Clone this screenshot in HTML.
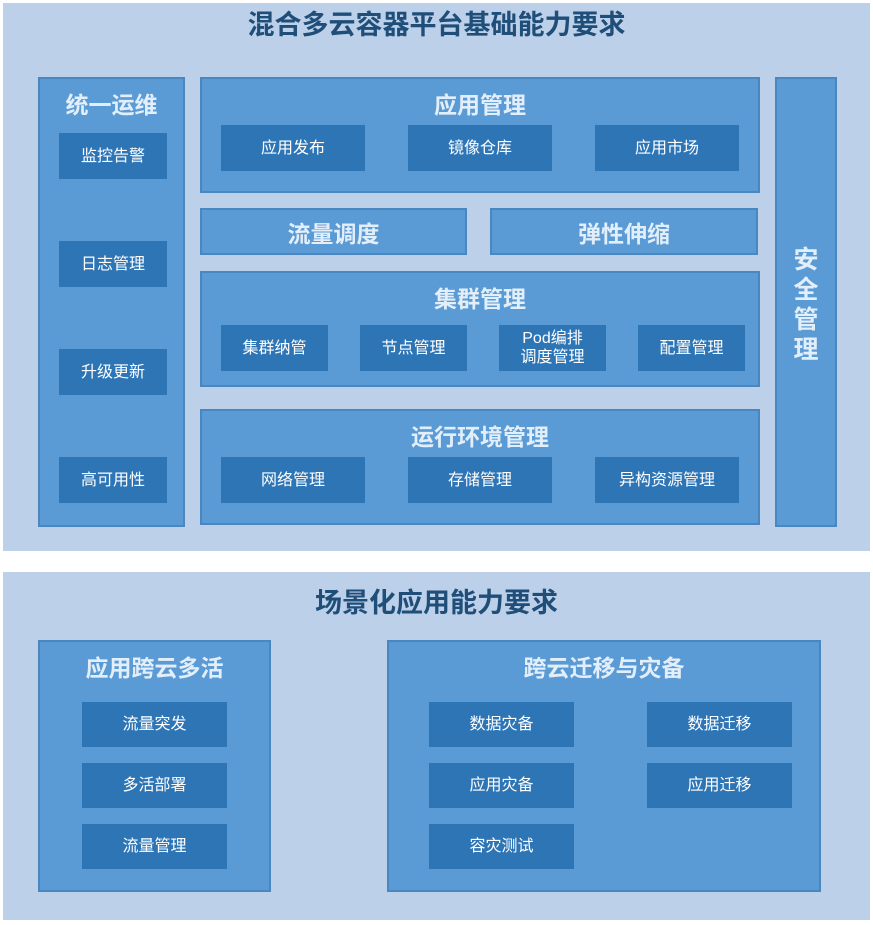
<!DOCTYPE html><html><head><meta charset="utf-8"><style>
body{margin:0;width:873px;height:925px;background:#fff;position:relative;font-family:"Liberation Sans","Noto Sans CJK SC",sans-serif;overflow:hidden}
.a{position:absolute;box-sizing:border-box}
.bg{background:#bdd0e9}
.m{background:#5b9bd5;border:2px solid #4a86c0}
.i{background:#2e75b6;color:#fff;font-size:16px;display:flex;align-items:center;justify-content:center;text-align:center;line-height:19px}
.t{color:#1f4e79;font-weight:bold;font-size:27px;text-align:center;width:873px;left:0}
.h{color:#e2eefa;font-weight:bold;font-size:23px;text-align:center;left:0;right:0}
</style></head><body>
<div class="a bg" style="left:3px;top:3px;width:867px;height:548px"></div>
<div class="a bg" style="left:3px;top:572px;width:867px;height:348px"></div>
<div class="a t" style="top:3px">混合多云容器平台基础能力要求</div>
<div class="a t" style="top:581px">场景化应用能力要求</div>

<div class="a m" style="left:38px;top:77px;width:147px;height:450px"><div class="a h" style="top:7px">统一运维</div></div>
<div class="a i" style="left:59px;top:133px;width:108px;height:46px">监控告警</div>
<div class="a i" style="left:59px;top:241px;width:108px;height:46px">日志管理</div>
<div class="a i" style="left:59px;top:349px;width:108px;height:46px">升级更新</div>
<div class="a i" style="left:59px;top:457px;width:108px;height:46px">高可用性</div>

<div class="a m" style="left:200px;top:77px;width:560px;height:116px"><div class="a h" style="top:7px">应用管理</div></div>
<div class="a i" style="left:221px;top:125px;width:144px;height:46px">应用发布</div>
<div class="a i" style="left:408px;top:125px;width:144px;height:46px">镜像仓库</div>
<div class="a i" style="left:595px;top:125px;width:144px;height:46px">应用市场</div>

<div class="a m" style="left:200px;top:208px;width:267px;height:47px"><div class="a h" style="top:5px">流量调度</div></div>
<div class="a m" style="left:490px;top:208px;width:268px;height:47px"><div class="a h" style="top:5px">弹性伸缩</div></div>

<div class="a m" style="left:200px;top:271px;width:560px;height:116px"><div class="a h" style="top:7px">集群管理</div></div>
<div class="a i" style="left:221px;top:325px;width:107px;height:46px">集群纳管</div>
<div class="a i" style="left:360px;top:325px;width:107px;height:46px">节点管理</div>
<div class="a i" style="left:499px;top:325px;width:107px;height:46px">Pod编排<br>调度管理</div>
<div class="a i" style="left:638px;top:325px;width:107px;height:46px">配置管理</div>

<div class="a m" style="left:200px;top:409px;width:560px;height:116px"><div class="a h" style="top:7px">运行环境管理</div></div>
<div class="a i" style="left:221px;top:457px;width:144px;height:46px">网络管理</div>
<div class="a i" style="left:408px;top:457px;width:144px;height:46px">存储管理</div>
<div class="a i" style="left:595px;top:457px;width:144px;height:46px">异构资源管理</div>

<div class="a m" style="left:775px;top:77px;width:62px;height:450px"><div class="a h" style="top:166px;line-height:30px;font-size:25px">安<br>全<br>管<br>理</div></div>

<div class="a m" style="left:38px;top:640px;width:233px;height:252px"><div class="a h" style="top:7px">应用跨云多活</div></div>
<div class="a i" style="left:82px;top:702px;width:145px;height:45px">流量突发</div>
<div class="a i" style="left:82px;top:763px;width:145px;height:45px">多活部署</div>
<div class="a i" style="left:82px;top:824px;width:145px;height:45px">流量管理</div>

<div class="a m" style="left:387px;top:640px;width:434px;height:252px"><div class="a h" style="top:7px">跨云迁移与灾备</div></div>
<div class="a i" style="left:429px;top:702px;width:145px;height:45px">数据灾备</div>
<div class="a i" style="left:647px;top:702px;width:145px;height:45px">数据迁移</div>
<div class="a i" style="left:429px;top:763px;width:145px;height:45px">应用灾备</div>
<div class="a i" style="left:647px;top:763px;width:145px;height:45px">应用迁移</div>
<div class="a i" style="left:429px;top:824px;width:145px;height:45px">容灾测试</div>
</body></html>
